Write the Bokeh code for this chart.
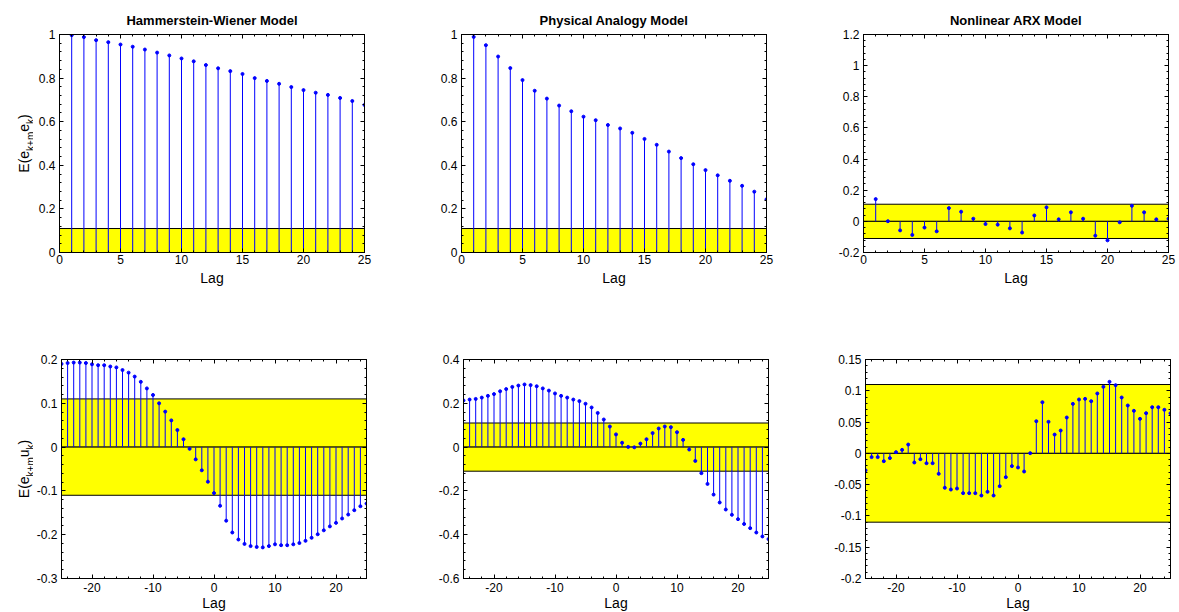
import math
from bokeh.plotting import figure
from bokeh.models import Range1d, LinearAxis, FixedTicker, CustomJSTickFormatter, ColumnDataSource
from bokeh.layouts import column, row
from bokeh.embed import file_html
from bokeh.resources import INLINE
from bokeh.core.properties import value

# ---------------- data ----------------
lags_pos = list(range(1, 26))
lags_all = list(range(-25, 26))

titles = ["Hammerstein-Wiener Model", "Physical Analogy Model", "Nonlinear ARX Model"]

hw_ee = [0.997, 0.988, 0.974, 0.965, 0.954, 0.944, 0.931, 0.917, 0.904, 0.890,
         0.877, 0.860, 0.845, 0.832, 0.819, 0.800, 0.787, 0.774, 0.759, 0.745,
         0.733, 0.723, 0.709, 0.695, 0.677]
pa_ee = [0.989, 0.951, 0.899, 0.846, 0.791, 0.742, 0.706, 0.674, 0.648, 0.623,
         0.607, 0.585, 0.569, 0.549, 0.521, 0.494, 0.463, 0.433, 0.405, 0.378,
         0.354, 0.329, 0.306, 0.279, 0.244]
arx_ee = [0.143, 0.001, -0.058, -0.087, -0.040, -0.064, 0.085, 0.062, 0.017, -0.017,
          -0.021, -0.045, -0.072, 0.038, 0.090, 0.013, 0.058, 0.017, -0.092, -0.122,
          -0.006, 0.100, 0.058, 0.013, 0.017]

hw_eu = [0.190, 0.192, 0.193, 0.193, 0.192, 0.189, 0.187, 0.187, 0.184, 0.182,
         0.176, 0.170, 0.161, 0.149, 0.134, 0.119, 0.100, 0.081, 0.061, 0.039,
         0.018, -0.004, -0.028, -0.053, -0.079,
         -0.105,
         -0.134, -0.168, -0.195, -0.211, -0.221, -0.226, -0.228, -0.229, -0.226, -0.222,
         -0.224, -0.224, -0.222, -0.219, -0.214, -0.207, -0.199, -0.190, -0.181, -0.173,
         -0.163, -0.154, -0.144, -0.135, -0.129]
pa_eu = [0.213, 0.217, 0.220, 0.226, 0.234, 0.242, 0.255, 0.265, 0.275, 0.281,
         0.286, 0.283, 0.278, 0.268, 0.258, 0.245, 0.234, 0.226, 0.217, 0.210,
         0.198, 0.181, 0.156, 0.126, 0.094,
         0.058,
         0.020, 0.001, -0.001, 0.016, 0.036, 0.064, 0.085, 0.094, 0.091, 0.068,
         0.033, -0.011, -0.063, -0.119, -0.168, -0.217, -0.253, -0.285, -0.309, -0.329,
         -0.351, -0.370, -0.390, -0.408, -0.420]
arx_eu = [-0.027, -0.006, -0.006, -0.0125, -0.0076, 0.0019, 0.0056, 0.0141, -0.0146, -0.0093,
          -0.0157, -0.0157, -0.0327, -0.055, -0.0578, -0.0562, -0.0636, -0.0636, -0.0636, -0.0674,
          -0.0615, -0.0674, -0.0524, -0.038, -0.0204,
          -0.0226,
          -0.029, 0.0003, 0.0514, 0.0818, 0.0504, 0.030, 0.0365, 0.0573, 0.0791, 0.0861,
          0.0871, 0.0834, 0.0957, 0.1063, 0.1143, 0.109, 0.0893, 0.0765, 0.068, 0.0552,
          0.0642, 0.0738, 0.0738, 0.0696, 0.0642]

conf = 0.11  # confidence band half-width

# tick labels
xt_pos = [0, 5, 10, 15, 20, 25]
xt_all = [-20, -10, 0, 10, 20]
yt_hw_ee = [0, 0.2, 0.4, 0.6, 0.8, 1]
yt_pa_ee = [0, 0.2, 0.4, 0.6, 0.8, 1]
yt_arx_ee = [-0.2, 0, 0.2, 0.4, 0.6, 0.8, 1, 1.2]
yt_hw_eu = [-0.3, -0.2, -0.1, 0, 0.1, 0.2]
yt_pa_eu = [-0.6, -0.4, -0.2, 0, 0.2, 0.4]
yt_arx_eu = [-0.2, -0.15, -0.1, -0.05, 0, 0.05, 0.1, 0.15]

# y-label pieces: (text, is_subscript)
ylabel_ee = [("E(e", False), ("k+m", True), ("e", False), ("k", True), (")", False)]
ylabel_eu = [("E(e", False), ("k+m", True), ("u", False), ("k", True), (")", False)]

# ---------------- style / layout ----------------
FONT = "Liberation Sans"
BLUE = "#0000ff"
YELLOW = "#ffff00"
ARIAL_W = {"E": 0.667, "(": 0.333, ")": 0.333, "e": 0.556, "u": 0.556,
           "k": 0.5, "+": 0.584, "m": 0.833}
MAIN_PX, SUB_PX = 14, 10

ROW_TOP = [34, 47]
ROW_FH = [218, 219]
ROW_BOTTOM = [60, 34]
TICK_STANDOFF = [2, 4]
LAG_STANDOFF = [3, 0]
STRIP_W = 33


def text_width(s, size):
    return sum(ARIAL_W.get(c, 0.556) for c in s) * size


fmt = CustomJSTickFormatter(code="return String(Math.round(tick*10000)/10000);")


def minor_of(ticks, lo, hi):
    step = (ticks[1] - ticks[0]) / 5.0
    out = []
    k = math.floor((lo - ticks[0]) / step)
    while ticks[0] + k * step <= hi + 1e-9:
        out.append(round(ticks[0] + k * step, 6))
        k += 1
    return out


def make_panel(lags, vals, xr, yr, xticks, yticks, rowi, coli, title=None):
    left = 26 if coli == 0 else 51
    right = 46 if coli < 2 else 8
    p = figure(frame_width=305, frame_height=ROW_FH[rowi],
               x_range=Range1d(*xr), y_range=Range1d(*yr),
               output_backend="svg", toolbar_location=None, tools="",
               x_axis_location=None, y_axis_location=None,
               min_border_left=left, min_border_right=right,
               min_border_top=ROW_TOP[rowi], min_border_bottom=ROW_BOTTOM[rowi])
    p.grid.visible = False
    p.outline_line_color = "black"
    p.outline_line_width = 1
    p.background_fill_color = "white"
    p.border_fill_color = "white"

    for loc in ["below", "left", "above", "right"]:
        tk = xticks if loc in ("below", "above") else yticks
        rng = xr if loc in ("below", "above") else yr
        ax = LinearAxis(ticker=FixedTicker(ticks=tk, minor_ticks=minor_of(tk, rng[0], rng[1])),
                        formatter=fmt)
        ax.major_tick_in = 4
        ax.major_tick_out = 0
        ax.minor_tick_in = 2
        ax.minor_tick_out = 0
        ax.axis_line_color = "black"
        ax.major_tick_line_color = "black"
        ax.minor_tick_line_color = "black"
        if loc in ("above", "right"):
            ax.major_label_text_font_size = "0px"
            ax.major_label_text_color = None
            ax.major_label_standoff = 0
        else:
            ax.major_label_text_font = FONT
            ax.major_label_text_font_size = "12px"
            ax.major_label_text_color = "black"
            if loc == "below":
                ax.major_label_standoff = TICK_STANDOFF[rowi]
                ax.axis_label = "Lag"
                ax.axis_label_text_font = FONT
                ax.axis_label_text_font_size = "14px"
                ax.axis_label_text_font_style = "normal"
                ax.axis_label_text_color = "black"
                ax.axis_label_standoff = LAG_STANDOFF[rowi]
            else:
                ax.major_label_standoff = 4
        p.add_layout(ax, loc)

    if title:
        p.title.text = title
        p.title.align = "center"
        p.title.text_font = FONT
        p.title.text_font_size = "13px"
        p.title.text_font_style = "bold"
        p.title.text_color = "black"
        p.title.standoff = 13

    # confidence band
    p.quad(left=xr[0], right=xr[1], bottom=[0, -conf], top=[conf, 0],
           fill_color=YELLOW, line_color="black", line_width=1)
    # stems
    p.segment(x0=lags, y0=[0] * len(lags), x1=lags, y1=vals, line_color=BLUE, line_width=1)
    p.scatter(x=lags, y=vals, size=3, color=BLUE)
    return p


def make_ylabel(pieces, rowi):
    fh = ROW_FH[rowi]
    s = figure(frame_width=STRIP_W, frame_height=fh,
               x_range=Range1d(0, STRIP_W), y_range=Range1d(0, fh),
               output_backend="svg", toolbar_location=None, tools="",
               x_axis_location=None, y_axis_location=None,
               min_border_left=0, min_border_right=0,
               min_border_top=ROW_TOP[rowi], min_border_bottom=ROW_BOTTOM[rowi])
    s.grid.visible = False
    s.outline_line_color = None
    s.background_fill_color = "white"
    s.border_fill_color = "white"
    sizes = [SUB_PX if sub else MAIN_PX for _, sub in pieces]
    total = sum(text_width(t, z) for (t, _), z in zip(pieces, sizes))
    ypos = fh / 2 - total / 2
    xs, ys, txt, fs = [], [], [], []
    for (t, sub), z in zip(pieces, sizes):
        xs.append(29.5 if sub else 23.5)
        ys.append(ypos)
        txt.append(t)
        fs.append(f"{z}px")
        ypos += text_width(t, z)
    src = ColumnDataSource(dict(x=xs, y=ys, text=txt, fs=fs))
    s.text(x="x", y="y", text="text", source=src, angle=math.pi / 2,
           text_font=value(FONT), text_font_size="fs", text_color="black",
           text_align="left", text_baseline="alphabetic")
    return s


p1 = make_panel(lags_pos, hw_ee, (0, 25), (0, 1), xt_pos, yt_hw_ee, 0, 0, titles[0])
p2 = make_panel(lags_pos, pa_ee, (0, 25), (0, 1), xt_pos, yt_pa_ee, 0, 1, titles[1])
p3 = make_panel(lags_pos, arx_ee, (0, 25), (-0.2, 1.2), xt_pos, yt_arx_ee, 0, 2, titles[2])
p4 = make_panel(lags_all, hw_eu, (-25, 25), (-0.3, 0.2), xt_all, yt_hw_eu, 1, 0)
p5 = make_panel(lags_all, pa_eu, (-25, 25), (-0.6, 0.4), xt_all, yt_pa_eu, 1, 1)
p6 = make_panel(lags_all, arx_eu, (-25, 25), (-0.2, 0.15), xt_all, yt_arx_eu, 1, 2)

yl1 = make_ylabel(ylabel_ee, 0)
yl2 = make_ylabel(ylabel_eu, 1)

layout = column(row(yl1, p1, p2, p3), row(yl2, p4, p5, p6))
open("out.html", "w").write(file_html(layout, INLINE))
